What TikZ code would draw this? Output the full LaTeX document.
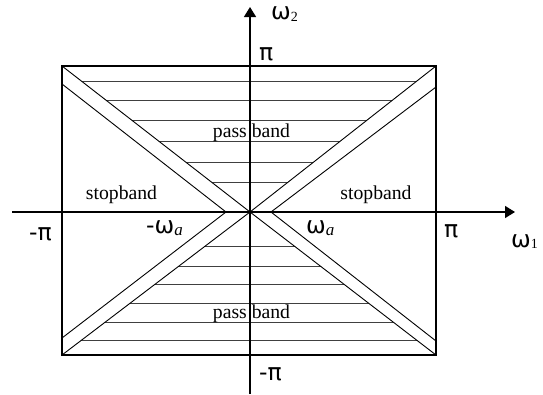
\documentclass[tikz,border=0pt]{standalone}
\usepackage{fontspec}
\setmainfont{Liberation Serif}
\newfontfamily\grk{DejaVu Sans}
\usetikzlibrary{arrows.meta}
\begin{document}
\begin{tikzpicture}[x=1pt,y=-1pt,
  frame/.style={line width=1.6pt},
  axisline/.style={line width=1.4pt,-{Triangle[length=10pt,width=12pt]}},
  diag/.style={line width=0.9pt},
  hatch/.style={line width=0.9pt,black!75},
  lbl/.style={font=\fontsize{19.7}{22}\selectfont,inner sep=0pt,anchor=base},
  sym/.style={font=\fontsize{23.5}{26}\selectfont\grk,inner sep=0pt,anchor=base west}]
\useasboundingbox (0,0) rectangle (543,394);
% corners and centre
\coordinate (TL) at (62,66);
\coordinate (TR) at (436,66);
\coordinate (BL) at (62,355);
\coordinate (BR) at (436,355);
\coordinate (O) at (250,212);
% offset lines
\coordinate (LU) at (62,84);
\coordinate (LM) at (226,212);
\coordinate (LD) at (62,338);
\coordinate (RU) at (436,87);
\coordinate (RM) at (271,212);
\coordinate (RD) at (436,341);
% axes ends
\coordinate (xs) at (12,212);
\coordinate (xe) at (515,212);
\coordinate (ys) at (250,394);
\coordinate (ye) at (250,7);
% hatching, upper pass band
\begin{scope}
  \clip (TL) -- (TR) -- (O) -- cycle;
  \foreach \yy in {81,100,120,141.5,162,182}
    \draw[hatch] (0,\yy) -- (543,\yy);
\end{scope}
% hatching, lower pass band
\begin{scope}
  \clip (BL) -- (BR) -- (O) -- cycle;
  \foreach \yy in {246,266,284,303,322,340}
    \draw[hatch] (0,\yy) -- (543,\yy);
\end{scope}
% diagonals
\draw[diag] (TL) -- (O) -- (BR);
\draw[diag] (TR) -- (O) -- (BL);
\draw[diag] (LU) -- (LM) -- (LD);
\draw[diag] (RU) -- (RM) -- (RD);
% frame
\draw[frame] (TL) rectangle (BR);
% axes
\draw[axisline] (xs) -- (xe);
\draw[axisline] (ys) -- (ye);
% texts
\node[lbl] (sbl) at (121.5,199) {stopband};
\node[lbl] (sbr) at (376,199) {stopband};
\node[lbl] (pbt) at (251.5,137) {pass band};
\node[lbl] (pbb) at (251.5,318.5) {pass band};
% symbols
\node[sym] (w2) at (271,19.5) {ω{\rmfamily\fontsize{14}{14}\selectfont\raisebox{-2pt}{2}}};
\node[sym] (w1) at (511,247) {ω{\rmfamily\fontsize{14}{14}\selectfont\raisebox{-1pt}{1}}};
\node[sym] (pit) at (259,60) {π};
\node[sym] (pir) at (444,237) {π};
\node[sym] (mpl) at (29,240) {-π};
\node[sym] (mpb) at (259,380) {-π};
\node[sym] (war) at (306,233) {ω{\rmfamily\itshape\fontsize{17}{17}\selectfont\raisebox{-2pt}{a}}};
\node[sym] (wal) at (146,233) {-ω{\rmfamily\itshape\fontsize{17}{17}\selectfont\raisebox{-2pt}{a}}};
\end{tikzpicture}
\end{document}
